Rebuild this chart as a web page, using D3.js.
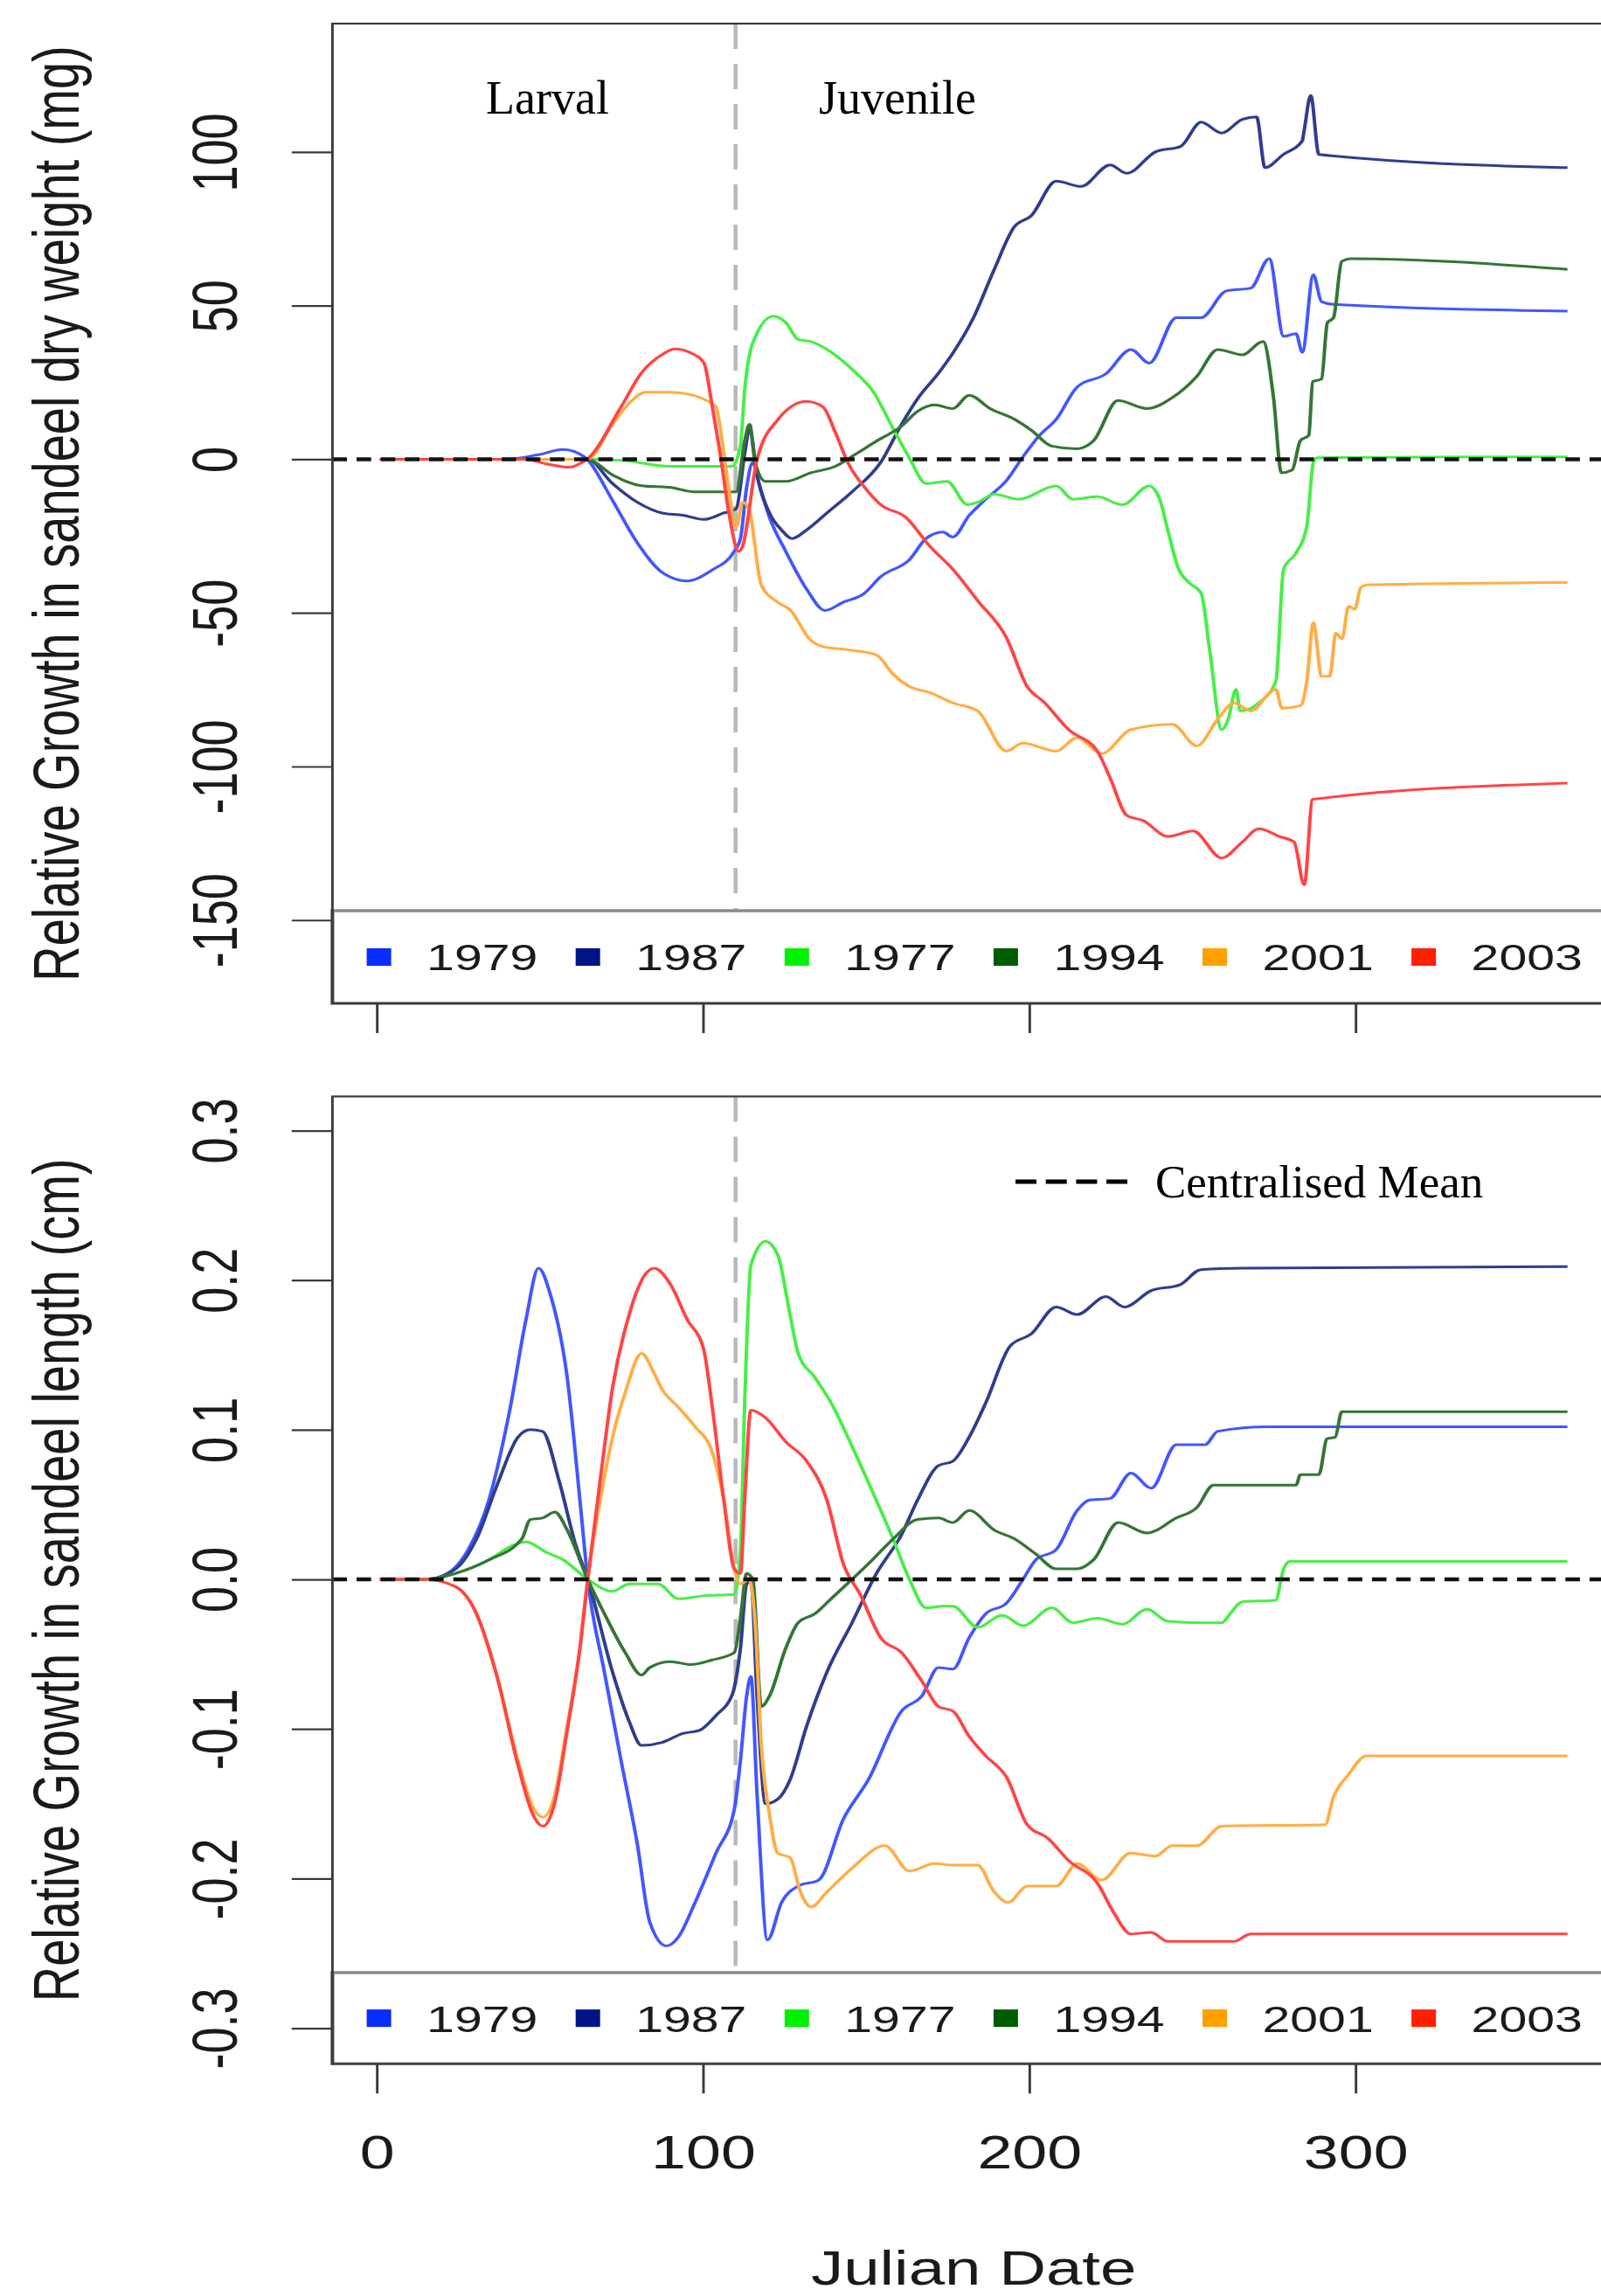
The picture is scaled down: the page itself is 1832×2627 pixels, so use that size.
<!DOCTYPE html>
<html>
<head>
<meta charset="utf-8">
<script src="https://cdn.jsdelivr.net/npm/d3@7"></script>
<style>
html, body { margin: 0; padding: 0; background: #fff; }
svg { display: block; }
</style>
</head>
<body>
<svg id="chart" width="1832" height="2627"></svg>
<script>
// series, in legend order
const years = ["1979", "1987", "1977", "1994", "2001", "2003"];
const legendColors = ["#0a2dff", "#001488", "#00f000", "#005c00", "#ffa000", "#ff2000"];
const lineColors = ["#4257ff", "#2f3d8e", "#48ee48", "#357535", "#ffae45", "#ff4545"];

const dayTicks = [0, 100, 200, 300];
const weightTicks = [-150, -100, -50, 0, 50, 100];
const lengthTicks = [-0.3, -0.2, -0.1, 0, 0.1, 0.2, 0.3];
const stageDay = 110;

// relative growth in dry weight (mg), [julian day, value]
const w1979 = [[1,0],[39.7,0],[49.6,1.5],[57.2,3.2],[60.6,2.5],[64.5,0],[72.3,-13.4],[79.9,-27.2],[87.5,-36.8],[95.1,-39.6],[102.7,-36.1],[109.6,-30],[111.5,-25.8],[113.4,-9.2],[115.3,-1],[117.2,-7.9],[120.4,-18.9],[125.4,-30],[131.8,-42.3],[137.4,-49.2],[143.1,-46.5],[149.4,-43.7],[154.5,-38.2],[163.3,-32.7],[168.4,-25.8],[173.5,-23.7],[176.6,-25.3],[181.6,-18.3],[186.7,-13],[193,-7],[198.1,0.8],[203.2,7.8],[208.3,13],[214.7,23.5],[223.5,27.8],[231.2,35.7],[236.8,31.3],[245.1,46.1],[252.7,46.1],[260.4,54.8],[267.9,55.7],[273.6,65.3],[278,40],[281.8,40.9],[283.7,34.8],[287.1,60],[289.6,51.3],[293.3,50.4],[365,48.2]];
const w1987 = [[1,0],[40,0],[64.5,0],[72.3,-7.9],[79.9,-14],[87.5,-17.5],[93.8,-18.2],[100.2,-19.6],[106.4,-17.5],[110.2,-16.1],[112.8,1.8],[114.3,10],[116.6,-5.1],[120.4,-17.5],[124.1,-23],[127.3,-25.8],[131.8,-23],[138,-17.5],[145.7,-10.6],[154.5,-1],[160.9,11.4],[165.8,19.7],[172.2,28],[176.6,34.5],[182.9,46],[189.3,61.8],[195.5,75.7],[200.6,79.2],[208.3,90.5],[215.9,88.8],[224.8,95.8],[229.9,93.1],[238.8,100.1],[246.4,101.8],[252.7,109.7],[259,106.2],[265.3,110.6],[269.7,111.4],[272.3,94.9],[277.9,99.2],[283.7,103.6],[284.3,107.1],[286.3,118.4],[288.8,99.2],[365,94.9]];
const w1977 = [[1,0],[64.5,0],[74.5,-0.3],[90.1,-2.3],[109,-2.3],[111.5,4.6],[112.8,22.5],[115.2,37.6],[121.6,46.6],[125.4,44.5],[129.2,39],[133.1,38.3],[139.3,34.9],[147,28],[151.9,22.5],[158.3,10],[163.3,0.4],[168.4,-7.9],[174.8,-7.2],[181.1,-14.8],[184.2,-14],[189.3,-11.4],[196.9,-13],[208.3,-8.7],[213.4,-13],[220.9,-12.2],[228.6,-14.8],[236.8,-8.7],[240,-13],[242.6,-23.6],[245.8,-35.7],[248.9,-40.1],[252.7,-43.6],[255.3,-61.9],[259,-88],[261,-84.6],[263.4,-74.9],[264.7,-81.9],[270.4,-79.3],[275.6,-72.3],[278,-35.7],[281.8,-30.5],[285.1,-21.8],[287.1,-1],[288.3,0.5],[365,0.8]];
const w1994 = [[1,0],[64.5,0],[72.3,-5.1],[81.1,-8.6],[90.1,-9.2],[97.6,-10.6],[105.3,-10.6],[110.2,-10.6],[112.8,5.9],[114.3,11.4],[116,-1],[119.2,-7.2],[125.4,-7.2],[133.1,-4.4],[140.6,-2.3],[147,1.8],[153.2,5.9],[160.9,10.8],[165.8,15.6],[171,17.7],[176.6,16.5],[181.6,20.8],[188,16.5],[195.5,13],[200.6,9.5],[206.9,4.3],[214.5,3.4],[219.7,6],[227.2,19.1],[236.1,16.5],[243.8,20],[251.4,27],[257.8,35.7],[265.3,34],[271.7,38.3],[274.9,20],[277.3,-4.4],[280.6,-3.5],[283.1,6],[285.7,7.8],[286.9,25.2],[289.6,26.1],[291.4,44.4],[293.3,46.1],[295.8,64.4],[298.4,65.3],[365,61.8]];
const w2001 = [[1,0],[64.5,0],[72.3,11.4],[77.5,18.3],[82.4,21.8],[90.1,21.8],[96.3,21],[101.3,19],[104,17],[105.9,6],[107.7,-7.9],[110.2,-22],[112.2,-14],[114.1,-16],[117.9,-41],[122.9,-46.5],[126.7,-49],[133.1,-59],[136.8,-61],[144.4,-62],[153.2,-63.7],[158.3,-70],[163.3,-74],[169.7,-76],[176.6,-79.3],[184.2,-81.9],[193,-95],[198.1,-92.4],[208.3,-95],[214.7,-90.6],[222.2,-95.8],[231.2,-88],[243.9,-86.3],[251.4,-93.3],[257.8,-84.6],[262.8,-79.3],[267.9,-81.9],[275.6,-74.9],[277.5,-81],[283.2,-80.2],[285.1,-72.3],[287.1,-53.2],[289.6,-70.6],[292.1,-70.6],[294,-56.6],[295.9,-58.4],[297.9,-47.9],[299.8,-48.8],[301.6,-41.8],[303.5,-40.9],[365,-40.1]];
const w2003 = [[1,0],[45,0],[52,-1.5],[59.1,-2.6],[63,-1],[64.5,0],[74.9,17],[81.1,28],[87.4,34],[91.4,35.9],[96.3,34.6],[100.3,31.4],[102.7,18.3],[105.3,1.8],[108.2,-18.9],[110.9,-30],[112.1,-28.5],[116.6,0],[122.9,12.8],[131.8,18.8],[136.8,17],[140.6,8.7],[144.4,-1],[150.7,-10.6],[154.5,-14.8],[162.2,-18.9],[169.7,-28.5],[176.6,-35.8],[184.2,-46],[193,-58],[199.4,-74],[204.5,-79],[212.1,-88],[220.9,-95],[224.8,-103.7],[229.9,-115.9],[234.9,-117.6],[242.6,-122.8],[250.2,-121],[259,-129.8],[265.3,-124.6],[270.4,-120.3],[276.7,-122.8],[281.2,-124.6],[284.3,-138.5],[286.9,-110.7],[365,-105.4]];

// relative growth in length (cm), [julian day, value]
const l1979 = [[1,0],[15,0],[21.7,0.004],[28.1,0.02],[34.4,0.053],[40.7,0.112],[45.8,0.174],[49.6,0.208],[53.3,0.19],[58.4,0.135],[62.3,0.053],[64.7,0],[69.8,-0.062],[74.9,-0.121],[79.9,-0.177],[83.7,-0.229],[88.8,-0.245],[92.5,-0.239],[97.6,-0.216],[104,-0.183],[109.6,-0.154],[111.5,-0.121],[113.4,-0.078],[114.7,-0.065],[116.6,-0.144],[119.8,-0.241],[124.1,-0.216],[129.2,-0.205],[135.5,-0.201],[143.1,-0.16],[150.7,-0.134],[160.9,-0.088],[167.1,-0.078],[172.2,-0.059],[176.6,-0.06],[181.6,-0.039],[186.7,-0.023],[193,-0.016],[198.1,0],[202,0.013],[208.3,0.02],[214.7,0.046],[218.5,0.053],[224.7,0.054],[231.2,0.071],[237.4,0.061],[245.1,0.09],[253.9,0.09],[257.8,0.099],[273,0.102],[365,0.102]];
const l1987 = [[1,0],[15,0],[24.2,0.007],[30.6,0.027],[36.9,0.063],[43.3,0.095],[47.1,0.1],[50.8,0.099],[55.9,0.066],[61,0.023],[64.7,0],[72.3,-0.062],[77.4,-0.095],[81.2,-0.111],[87.5,-0.109],[93.8,-0.103],[98.9,-0.101],[104,-0.091],[109,-0.077],[111.5,-0.046],[113.4,-0.003],[114.7,-0.001],[116.6,-0.078],[119.2,-0.15],[122.9,-0.147],[126.7,-0.134],[131.8,-0.098],[138,-0.062],[145.7,-0.029],[153.2,0.004],[160.9,0.03],[165.8,0.053],[172.2,0.076],[176.6,0.079],[181.6,0.095],[186.7,0.118],[194.2,0.156],[200.6,0.164],[208.3,0.182],[214.7,0.177],[223.5,0.189],[229.2,0.182],[237.4,0.193],[246.3,0.197],[252.6,0.207],[265.3,0.208],[365,0.209]];
const l1977 = [[1,0],[15,0],[24.2,0.004],[34.4,0.013],[42,0.023],[45.8,0.025],[52.1,0.018],[57.2,0.013],[64.7,0],[72.3,-0.008],[77.4,-0.003],[86.2,-0.003],[92.5,-0.013],[100.2,-0.011],[109.6,-0.01],[111.5,0.02],[112.8,0.118],[114.7,0.21],[119.2,0.226],[122.9,0.217],[126.7,0.177],[129.2,0.151],[134.3,0.135],[139.3,0.118],[145.7,0.089],[151.9,0.059],[158.3,0.027],[163.3,0],[168.4,-0.019],[173.5,-0.018],[176.6,-0.018],[184.2,-0.032],[191.8,-0.024],[198.1,-0.031],[207,-0.019],[213.4,-0.029],[220.9,-0.026],[228.6,-0.03],[236.1,-0.02],[242.5,-0.028],[252.6,-0.029],[259,-0.029],[261.6,-0.023],[265.3,-0.015],[275.5,-0.014],[278,0.007],[279.9,0.012],[365,0.012]];
const l1994 = [[1,0],[15,0],[24.2,0.004],[34.4,0.013],[44.5,0.027],[47.1,0.04],[50.8,0.041],[54.6,0.045],[58.4,0.033],[64.7,0],[69.8,-0.023],[76.2,-0.049],[81.2,-0.064],[83.7,-0.059],[90.1,-0.055],[96.3,-0.057],[102.7,-0.054],[109.6,-0.049],[111.5,-0.026],[113.4,0.004],[115.3,0],[117.9,-0.085],[120.4,-0.078],[125.4,-0.046],[129.2,-0.029],[134.3,-0.023],[139.3,-0.013],[145.7,0],[151.9,0.013],[158.3,0.027],[165.8,0.04],[172.2,0.041],[176.6,0.038],[181.6,0.046],[189.3,0.033],[195.6,0.027],[202,0.017],[208.3,0.007],[214.7,0.007],[219.7,0.013],[227.3,0.038],[236.1,0.031],[245.1,0.041],[251.4,0.048],[256.5,0.063],[281.8,0.063],[283.1,0.07],[288.8,0.07],[291.3,0.094],[293.8,0.095],[295.8,0.112],[365,0.112]];
const l2001 = [[1,0],[15,0],[24.2,-0.005],[30.6,-0.023],[36.9,-0.065],[43.3,-0.121],[48.3,-0.154],[51,-0.159],[54.6,-0.144],[58.4,-0.098],[62.3,-0.046],[64.7,0],[68.5,0.053],[72.3,0.095],[76.2,0.125],[81.2,0.151],[85,0.138],[87.5,0.127],[92.5,0.115],[97.6,0.102],[102.7,0.086],[106.4,0.053],[109.6,0.007],[111.5,-0.003],[114.1,0],[116,-0.029],[117.9,-0.111],[120.4,-0.157],[122.9,-0.183],[126.7,-0.186],[129.9,-0.209],[133.1,-0.219],[138,-0.209],[145.7,-0.193],[155.8,-0.178],[163.3,-0.195],[171,-0.19],[176.6,-0.191],[184.2,-0.191],[189.3,-0.209],[193.6,-0.216],[199.4,-0.205],[208.3,-0.205],[214.7,-0.19],[222.2,-0.201],[231.1,-0.183],[238.7,-0.185],[243.8,-0.178],[251.4,-0.178],[259,-0.165],[290.7,-0.164],[293.2,-0.146],[297.7,-0.131],[303.4,-0.118],[365,-0.118]];
const l2003 = [[1,0],[15,0],[24.2,-0.005],[30.6,-0.023],[36.9,-0.065],[43.3,-0.124],[48.3,-0.159],[51,-0.165],[54.6,-0.149],[58.4,-0.101],[62.3,-0.046],[64.7,0],[68.5,0.066],[72.3,0.128],[77.4,0.177],[82.4,0.204],[85,0.208],[90.1,0.197],[95.1,0.174],[100.2,0.154],[102.7,0.118],[106.4,0.053],[109.6,0.007],[111.5,0.004],[112.8,0.053],[114.7,0.113],[119.2,0.108],[125.4,0.092],[131.8,0.079],[138,0.053],[143.1,0.01],[148.2,-0.01],[154.5,-0.039],[160.9,-0.049],[167.1,-0.068],[172.2,-0.085],[176.6,-0.088],[181.6,-0.105],[186.7,-0.118],[193,-0.132],[199.4,-0.164],[205.7,-0.173],[212.1,-0.188],[220.9,-0.203],[226,-0.223],[231.1,-0.237],[237.4,-0.236],[242.5,-0.242],[262.7,-0.242],[267.9,-0.237],[365,-0.237]];

// the R plot is stretched sideways in the picture, so draw it in a scaled group
const SX = 1.33;
const FONT = "'Liberation Sans', Arial, Helvetica, sans-serif";
const SERIF = "'Liberation Serif', 'Times New Roman', serif";
const INK = "#3a3a3a";

const svg = d3.select("#chart");
const g = svg.append("g").attr("transform", `scale(${SX},1)`);

const x = d3.scaleLinear().domain([0, 300]).range([431 / SX, 1551 / SX]);
const xL = x(-13.56), xR = x(379.56);
const line = d3.line().curve(d3.curveMonotoneX);

function panel(o) {
  const y = d3.scaleLinear().domain(o.dom).range([o.bottom, o.top]);
  const p = g.append("g");
  line.x(d => x(d[0])).y(d => y(d[1]));

  p.append("line")
    .attr("x1", x(stageDay)).attr("x2", x(stageDay))
    .attr("y1", o.top).attr("y2", o.legTop)
    .attr("stroke", "#b8b8b8").attr("stroke-width", 3.4)
    .attr("stroke-dasharray", "29,17");

  p.selectAll("path.series").data(o.series).join("path")
    .attr("class", "series")
    .attr("d", d => line(d))
    .attr("fill", "none")
    .attr("stroke", (d, i) => lineColors[i])
    .attr("stroke-width", 3)
    .attr("stroke-linejoin", "round");

  p.append("line")
    .attr("x1", xL).attr("x2", xR).attr("y1", y(0)).attr("y2", y(0))
    .attr("stroke", "#111").attr("stroke-width", 4.5)
    .attr("stroke-dasharray", "12.5,8.3");

  // legend strip along the bottom of the plot
  p.append("rect")
    .attr("x", xL).attr("y", o.legTop)
    .attr("width", xR - xL).attr("height", o.bottom - o.legTop)
    .attr("fill", "#fff").attr("stroke", "#8a8a8a").attr("stroke-width", 3.5);
  const legMid = (o.legTop + o.bottom) / 2;
  const items = p.selectAll("g.leg").data(years).join("g")
    .attr("class", "leg")
    .attr("transform", (d, i) => `translate(${(419.6 + i * 239.1) / SX},${legMid})`);
  items.append("rect")
    .attr("x", 0).attr("y", -10).attr("width", 28 / SX).attr("height", 20)
    .attr("fill", (d, i) => legendColors[i]);
  items.append("text")
    .attr("x", 68.5 / SX).attr("y", 15.4)
    .attr("font-family", FONT).attr("font-size", 43).attr("fill", "#1a1a1a")
    .text(d => d);

  p.append("rect")
    .attr("x", xL).attr("y", o.top)
    .attr("width", xR - xL).attr("height", o.bottom - o.top)
    .attr("fill", "none").attr("stroke", INK).attr("stroke-width", 2.2);

  const ya = p.append("g").attr("transform", `translate(${xL},0)`)
    .call(d3.axisLeft(y).tickValues(o.ticks).tickSize(35).tickFormat(o.fmt));
  ya.select(".domain").remove();
  ya.selectAll(".tick line").attr("stroke", INK).attr("stroke-width", 2.2);
  ya.selectAll(".tick text")
    .attr("x", null).attr("dy", null)
    .attr("text-anchor", "middle")
    .attr("transform", "translate(-82,0) rotate(-90)")
    .attr("font-family", FONT).attr("font-size", 54).attr("fill", "#1a1a1a");

  const xa = p.append("g").attr("transform", `translate(0,${o.bottom})`)
    .call(d3.axisBottom(x).tickValues(dayTicks).tickSize(34)
      .tickFormat(o.xLabels ? d => String(d) : () => ""));
  xa.select(".domain").remove();
  xa.selectAll(".tick line").attr("stroke", INK).attr("stroke-width", 2.2);
  xa.selectAll(".tick text")
    .attr("y", 120).attr("dy", null)
    .attr("font-family", FONT).attr("font-size", 54).attr("fill", "#1a1a1a");

  p.append("text")
    .attr("transform", `translate(68,${(o.top + o.bottom) / 2}) rotate(-90)`)
    .attr("text-anchor", "middle")
    .attr("font-family", FONT).attr("font-size", 56).attr("fill", "#1a1a1a")
    .text(o.title);
}

panel({
  dom: [-177.1, 141.8], top: 27, bottom: 1148, legTop: 1042,
  series: [w1979, w1987, w1977, w1994, w2001, w2003],
  ticks: weightTicks, fmt: d => String(d), xLabels: false,
  title: "Relative Growth in sandeel dry weight (mg)"
});
panel({
  dom: [-0.3238, 0.3228], top: 1254.5, bottom: 2361.3, legTop: 2257,
  series: [l1979, l1987, l1977, l1994, l2001, l2003],
  ticks: lengthTicks, fmt: d => d.toFixed(1), xLabels: true,
  title: "Relative Growth in sandeel length (cm)"
});

g.append("text")
  .attr("x", (xL + xR) / 2).attr("y", 2614)
  .attr("text-anchor", "middle")
  .attr("font-family", FONT).attr("font-size", 56).attr("fill", "#1a1a1a")
  .text("Julian Date");

// annotations laid on top of the figure (not stretched)
svg.append("text").attr("x", 556).attr("y", 130)
  .attr("font-family", SERIF).attr("font-size", 54).text("Larval");
svg.append("text").attr("x", 937).attr("y", 130)
  .attr("font-family", SERIF).attr("font-size", 54).text("Juvenile");
svg.append("line")
  .attr("x1", 1162).attr("x2", 1290).attr("y1", 1352).attr("y2", 1352)
  .attr("stroke", "#000").attr("stroke-width", 5).attr("stroke-dasharray", "24,10.7");
svg.append("text").attr("x", 1322).attr("y", 1369.6)
  .attr("font-family", SERIF).attr("font-size", 53).text("Centralised Mean");
</script>
</body>
</html>
